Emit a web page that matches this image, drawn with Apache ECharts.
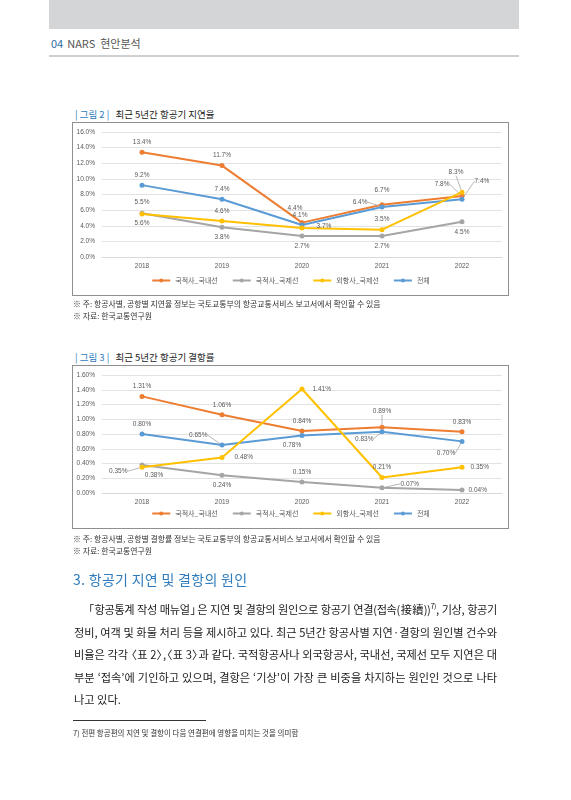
<!DOCTYPE html>
<html><head><meta charset="utf-8">
<script src="https://cdn.jsdelivr.net/npm/echarts@6/dist/echarts.min.js"></script>
<style>
html,body{margin:0;padding:0;background:#fff;}
body{width:571px;height:800px;position:relative;overflow:hidden;font-family:"Noto Sans CJK KR","Noto Sans",sans-serif;color:#333;}
.abs{position:absolute;}
.band{left:49px;top:0;width:470px;height:29px;background:#d4d5d6;}
.hdr{left:51px;top:35px;font-size:11px;color:#555;white-space:nowrap;}
.hdr b{color:#2e6da4;font-weight:400;margin-right:4px;}
.hline{left:49px;top:55px;width:470px;height:2px;background:#d0d0d0;}
.ftitle{left:75px;font-size:9.5px;color:#222;white-space:nowrap;font-weight:400;}
.ftitle span{color:#2e7bbd;margin-right:4px;font-weight:400;}
.box{border:1.5px solid #8f8f8f;box-sizing:border-box;pointer-events:none;}
.note{left:73px;font-size:7.9px;color:#333;white-space:nowrap;}
.sec{left:73px;top:569px;font-size:14px;color:#2e7bbd;white-space:nowrap;letter-spacing:0.3px;}
.para{left:74px;width:423px;font-size:11.2px;color:#222;line-height:22px;}
.para div{text-align:justify;text-align-last:justify;white-space:nowrap;height:22.5px;}
.para div.last{text-align-last:left;}
.ob{margin-left:-5px;}
.cb2{letter-spacing:-5px;}
.fnl{left:73px;top:720px;width:133px;height:1px;background:#333;}
.fn{left:73px;top:727px;font-size:7.5px;color:#333;white-space:nowrap;}
sup{font-size:7px;vertical-align:5px;line-height:1;}
</style></head>
<body>
<div class="abs band"></div>
<div class="abs hdr"><b>04</b>NARS&nbsp; 현안분석</div>
<div class="abs hline"></div>

<div class="abs ftitle" style="top:107px"><span>| 그림 2 |</span> 최근 5년간 항공기 지연율</div>
<div id="c1" class="abs" style="left:72px;top:122px;width:437px;height:174px"></div>
<div class="abs box" style="left:72px;top:122px;width:437px;height:174px"></div>
<div class="abs note" style="top:298px">※ 주: 항공사별, 공항별 지연율 정보는 국토교통부의 항공교통서비스 보고서에서 확인할 수 있음</div>
<div class="abs note" style="top:310px">※ 자료: 한국교통연구원</div>

<div class="abs ftitle" style="top:350px"><span>| 그림 3 |</span> 최근 5년간 항공기 결항률</div>
<div id="c2" class="abs" style="left:72px;top:365px;width:437px;height:164px"></div>
<div class="abs box" style="left:72px;top:365px;width:437px;height:164px"></div>
<div class="abs note" style="top:533px">※ 주: 항공사별, 공항별 결항률 정보는 국토교통부의 항공교통서비스 보고서에서 확인할 수 있음</div>
<div class="abs note" style="top:545px">※ 자료: 한국교통연구원</div>

<div class="abs sec">3. 항공기 지연 및 결항의 원인</div>
<div class="abs para" style="top:598px">
<div style="padding-left:9px;width:414px;letter-spacing:-0.35px">「항공통계 작성 매뉴얼<span class="cb2">」</span>은 지연 및 결항의 원인으로 항공기 연결(접속(接續))<sup>7)</sup>, 기상, 항공기</div>
<div>정비, 여객 및 화물 처리 등을 제시하고 있다. 최근 5년간 항공사별 지연·결항의 원인별 건수와</div>
<div>비율은 각각 <span class="ob">〈</span>표 2<span class="cb2">〉</span>,<span class="ob">〈</span>표 3<span class="cb2">〉</span>과 같다. 국적항공사나 외국항공사, 국내선, 국제선 모두 지연은 대</div>
<div>부분 ‘접속’에 기인하고 있으며, 결항은 ‘기상’이 가장 큰 비중을 차지하는 원인인 것으로 나타</div>
<div class="last">나고 있다.</div>
</div>
<div class="abs fnl"></div>
<div class="abs fn">7) 전편 항공편의 지연 및 결항이 다음 연결편에 영향을 미치는 것을 의미함</div>

<script>
// ---- data ----
var years = ['2018','2019','2020','2021','2022'];
var seriesNames = ['국적사_국내선','국적사_국제선','외항사_국제선','전체'];
// Figure 2: delay rate (%)
var delayDomestic = [13.4, 11.7, 4.4, 6.7, 7.8];
var delayNatIntl  = [5.6, 3.8, 2.7, 2.7, 4.5];
var delayForIntl  = [5.5, 4.6, 3.7, 3.5, 8.3];
var delayTotal    = [9.2, 7.4, 4.1, 6.4, 7.4];
// Figure 3: cancellation rate (%)
var cancelDomestic = [1.31, 1.06, 0.84, 0.89, 0.83];
var cancelNatIntl  = [0.38, 0.24, 0.15, 0.07, 0.04];
var cancelForIntl  = [0.35, 0.48, 1.41, 0.21, 0.35];
var cancelTotal    = [0.80, 0.65, 0.78, 0.83, 0.70];

// ---- styling (label placements: [position, dx, dy, leader]) ----
var colors = ['#ED7D31','#A5A5A5','#FFC000','#5B9BD5'];
var place1 = [
  [['top',0,0,0],['top',0,0,0],['top',-7,-4,0],['top',0,-4,0],['left',-6,-12,1]],
  [['bottom',0,0,0],['bottom',0,0,0],['bottom',0,0,0],['bottom',0,0,0],['bottom',0,0,0]],
  [['top',0,-2,0],['top',0,0,0],['right',8,-2,0],['top',0,0,0],['top',-6,-10,1]],
  [['top',0,0,0],['top',0,0,0],['top',-2,0,0],['left',-8,-5,1],['right',6,-18,1]]
];
var place2 = [
  [['top',0,0,0],['top',0,0,0],['top',0,0,0],['top',0,-6,1],['top',0,0,0]],
  [['bottom',12,0,0],['bottom',0,0,0],['top',0,0,0],['right',12,-4,1],['right',0,0,0]],
  [['left',-8,4,1],['right',6,0,0],['right',4,0,0],['top',0,0,0],['right',2,0,0]],
  [['top',0,0,0],['left',-8,-10,1],['bottom',-10,0,0],['left',-2,7,1],['bottom',-16,2,1]]
];

function buildOption(dataSets, place, yMax, yInt, dec, gridBottom, legendBottom){
  return {
    animation:false,
    textStyle:{fontFamily:'"Noto Sans CJK KR", "Noto Sans", sans-serif'},
    grid:{left:30,right:7,top:10,bottom:gridBottom},
    legend:{
      bottom:legendBottom, left:'center', itemWidth:18, itemHeight:5, itemGap:14,
      textStyle:{fontSize:7,color:'#595959'},
      data:seriesNames
    },
    xAxis:{
      type:'category', data:years, boundaryGap:true,
      axisLine:{show:true,lineStyle:{color:'#d9d9d9'}},
      axisTick:{show:false},
      axisLabel:{fontSize:6.5,color:'#595959',margin:6,fontFamily:'Liberation Sans'}
    },
    yAxis:{
      type:'value', min:0, max:yMax, interval:yInt,
      axisLine:{show:false}, axisTick:{show:false},
      splitLine:{lineStyle:{color:'#e3e3e3'}},
      axisLabel:{fontSize:6.5,color:'#595959',margin:7,fontFamily:'Liberation Sans',
        formatter:function(v){return v.toFixed(dec)+'%';}}
    },
    series:dataSets.map(function(arr,si){
      return {
        name:seriesNames[si], type:'line', data:arr.map(function(v,di){
          var p = place[si][di];
          return {value:v, label:{position:p[0]}, labelLine:{show:!!p[3]}};
        }),
        color:colors[si], symbol:'circle', symbolSize:5,
        lineStyle:{width:2,color:colors[si]},
        itemStyle:{color:colors[si]},
        label:{show:true,fontSize:6.5,color:'#595959',distance:4,fontFamily:'Liberation Sans',
          formatter:function(p){return p.value.toFixed(dec===1?1:2)+'%';}},
        labelLine:{lineStyle:{color:'#a6a6a6',width:0.8}},
        labelLayout:function(params){
          var p = place[si][params.dataIndex];
          return {dx:p[1], dy:p[2]};
        },
        z: si===2?3:2
      };
    })
  };
}

var c1 = echarts.init(document.getElementById('c1'));
c1.setOption(buildOption([delayDomestic,delayNatIntl,delayForIntl,delayTotal], place1, 16, 2, 1, 39, 7));
var c2 = echarts.init(document.getElementById('c2'));
c2.setOption(buildOption([cancelDomestic,cancelNatIntl,cancelForIntl,cancelTotal], place2, 1.6, 0.2, 2, 36, 7));
</script>
</body></html>
